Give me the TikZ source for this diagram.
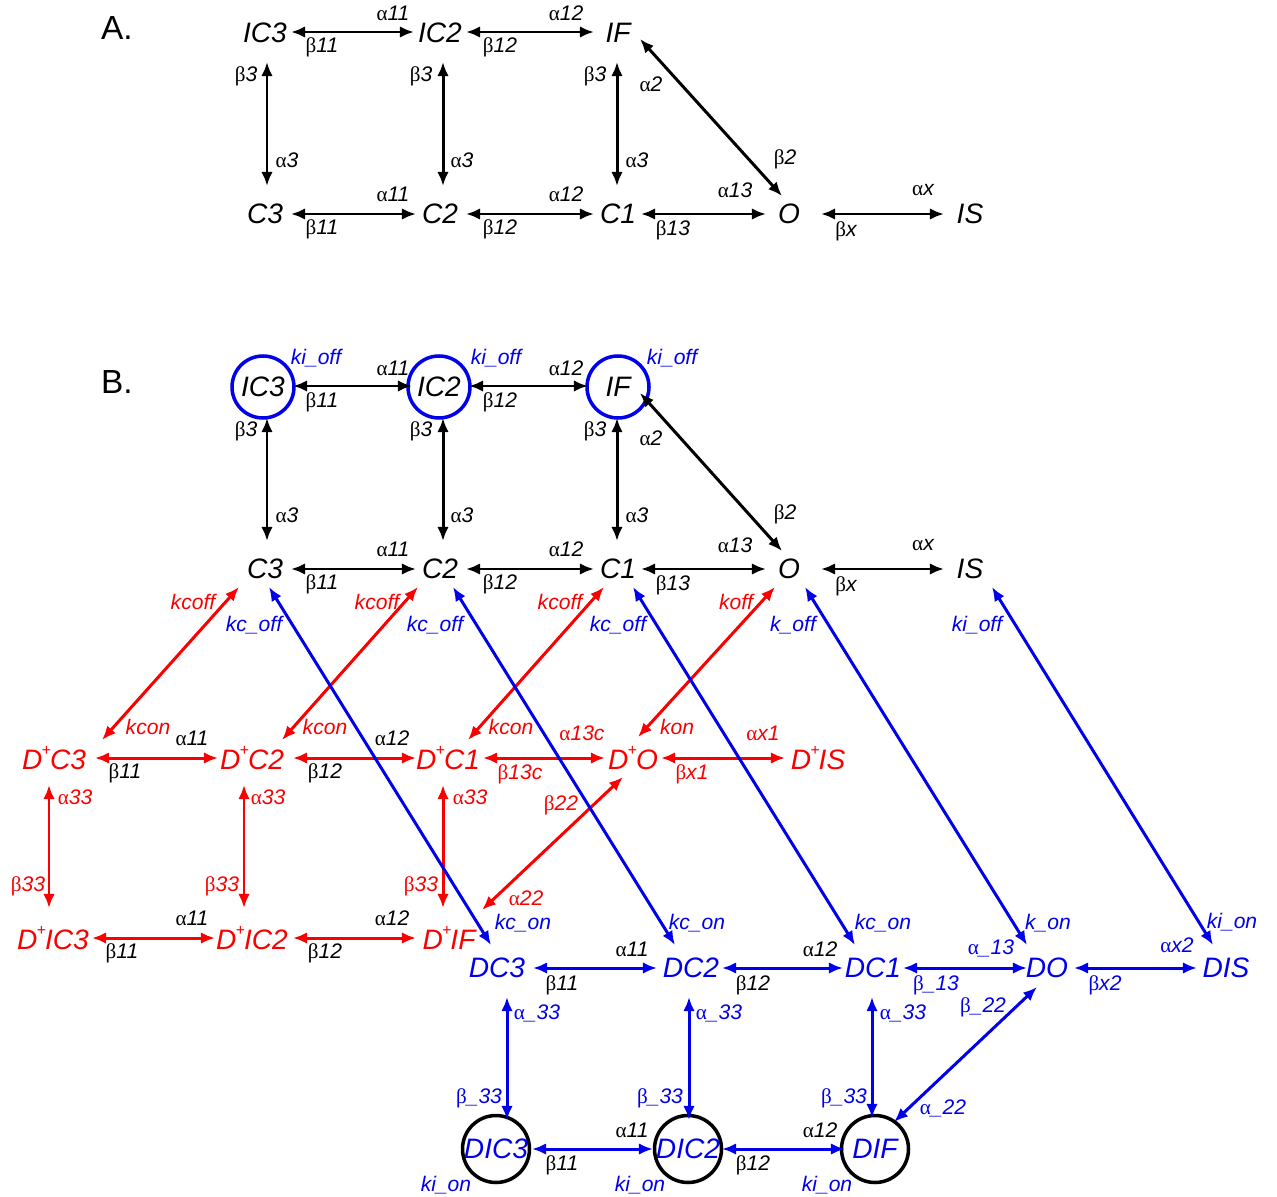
\documentclass[tikz,border=0pt]{standalone}
\usepackage{fontspec}
\setmainfont{Liberation Sans}
\newfontfamily\grk{Liberation Serif}
\usetikzlibrary{calc,arrows.meta}
\definecolor{myred}{RGB}{250,0,0}
\definecolor{myblue}{RGB}{0,0,235}
\newcommand\ga{{\upshape\grk α}}
\newcommand\gb{{\upshape\grk β}}
\newcommand\Dp{D\kern-0.3pt\raisebox{0.95ex}{\fontsize{9}{9}\selectfont\upshape+}\kern-0.6pt}
\newcounter{lbc}
\newcommand\lab[3][]{\stepcounter{lbc}\node[lb,#1] (lab\arabic{lbc}) at (#2) {#3};}
\newcommand\cn[5][]{\draw[arr,#1] ($(#2)+(#3)$) -- ($(#4)+(#5)$);}
\tikzset{
 st/.style={font=\fontsize{16}{19}\selectfont\itshape, inner sep=0pt},
 lb/.style={font=\fontsize{12}{14}\selectfont\itshape, inner sep=0pt},
 arr/.style={line width=1.7pt, {Latex[length=8pt,width=6.5pt]}-{Latex[length=8pt,width=6.5pt]}},
 rd/.style={draw=myred, color=myred},
 bl/.style={draw=myblue, color=myblue},
 R/.style={text=myred},
 B/.style={text=myblue},
 circB/.style={st, circle, draw=myblue, line width=2pt, minimum size=1.24cm},
 circK/.style={st, circle, draw=black, line width=2pt, minimum size=1.34cm, text=myblue},
 panel/.style={font=\fontsize{19}{22}\selectfont, inner sep=0pt},
}
\begin{document}
\begin{tikzpicture}[x=0.02cm,y=-0.02cm]
\useasboundingbox (0,0) rectangle (1277,1196);
% ---------------- Panel A
\node[panel] (pA) at (117,28) {A.};
\node[st] (aIC3) at (265,33) {IC3};
\node[st] (aIC2) at (440,33) {IC2};
\node[st] (aIF) at (618,33) {IF};
\node[st] (aC3) at (265,214) {C3};
\node[st] (aC2) at (440,214) {C2};
\node[st] (aC1) at (618,214) {C1};
\node[st] (aO) at (789,214) {O};
\node[st] (aIS) at (970,214) {IS};
\cn{aIC3}{26,-1}{aIC2}{-26,-1}
\cn{aIC2}{26,-1}{aIF}{-24,-1}
\cn{aIC3}{2,29}{aC3}{2,-28}
\cn{aIC2}{3,29}{aC2}{3,-28}
\cn{aIF}{-1,29}{aC1}{-1,-28}
\cn{aIF}{22,6}{aO}{-7,-18}
\cn{aC3}{26,0}{aC2}{-24,0}
\cn{aC2}{26,0}{aC1}{-24,0}
\cn{aC1}{23,0}{aO}{-23,0}
\cn{aO}{32,0}{aIS}{-26,0}
\lab{393,13}{\ga11}
\lab{322,47}{\gb11}
\lab{566,13}{\ga12}
\lab{500,47}{\gb12}
\lab{246,76}{\gb3}
\lab{287,160}{\ga3}
\lab{421,76}{\gb3}
\lab{462,160}{\ga3}
\lab{595,76}{\gb3}
\lab{637,160}{\ga3}
\lab{651,84}{\ga2}
\lab{785,159}{\gb2}
\lab{393,194}{\ga11}
\lab{322,229}{\gb11}
\lab{566,194}{\ga12}
\lab{500,229}{\gb12}
\lab{735,190}{\ga13}
\lab{673,230}{\gb13}
\lab{923,190}{\ga x}
\lab{846,231}{\gb x}
% ---------------- Panel B
\node[panel] (pB) at (117,382) {B.};
\node[circB] (bIC3) at (263,387) {IC3};
\node[circB] (bIC2) at (439,387) {IC2};
\node[circB] (bIF) at (618,387) {IF};
\node[st] (bC3) at (265,569) {C3};
\node[st] (bC2) at (440,569) {C2};
\node[st] (bC1) at (618,569) {C1};
\node[st] (bO) at (789,569) {O};
\node[st] (bIS) at (970,569) {IS};
\lab[B]{316,358}{ki\_off}
\lab[B]{496,358}{ki\_off}
\lab[B]{672,358}{ki\_off}
\cn{bIC3}{30,-1}{bIC2}{-27,-1}
\cn{bIC2}{30,-1}{bIF}{-30,-1}
\cn{bIC3}{4,31}{bC3}{2,-28}
\cn{bIC2}{4,31}{bC2}{3,-28}
\cn{bIF}{-1,31}{bC1}{-1,-28}
\cn{bIF}{22,6}{bO}{-7,-18}
\cn{bC3}{26,0}{bC2}{-24,0}
\cn{bC2}{26,0}{bC1}{-24,0}
\cn{bC1}{23,0}{bO}{-23,0}
\cn{bO}{32,0}{bIS}{-26,0}
\lab{393,368}{\ga11}
\lab{322,402}{\gb11}
\lab{566,368}{\ga12}
\lab{500,402}{\gb12}
\lab{246,431}{\gb3}
\lab{287,515}{\ga3}
\lab{421,431}{\gb3}
\lab{462,515}{\ga3}
\lab{595,431}{\gb3}
\lab{637,515}{\ga3}
\lab{651,438}{\ga2}
\lab{785,514}{\gb2}
\lab{393,549}{\ga11}
\lab{322,584}{\gb11}
\lab{566,549}{\ga12}
\lab{500,584}{\gb12}
\lab{735,545}{\ga13}
\lab{673,585}{\gb13}
\lab{923,545}{\ga x}
\lab{846,586}{\gb x}
% red states
\node[st,text=myred] (DpC3) at (54,758) {\Dp C3};
\node[st,text=myred] (DpC2) at (252,758) {\Dp C2};
\node[st,text=myred] (DpC1) at (448,758) {\Dp C1};
\node[st,text=myred] (DpO) at (633,758) {\Dp O};
\node[st,text=myred] (DpIS) at (818,758) {\Dp IS};
\node[st,text=myred] (DpIC3) at (53,938) {\Dp IC3};
\node[st,text=myred] (DpIC2) at (252,938) {\Dp IC2};
\node[st,text=myred] (DpIF) at (449,938) {\Dp IF};
% blue states
\node[st,text=myblue] (DC3) at (497,968) {DC3};
\node[st,text=myblue] (DC2) at (691,968) {DC2};
\node[st,text=myblue] (DC1) at (873,968) {DC1};
\node[st,text=myblue] (DO) at (1047,968) {DO};
\node[st,text=myblue] (DIS) at (1226,968) {DIS};
\node[circK] (DIC3) at (496,1149) {DIC3};
\node[circK] (DIC2) at (688,1149) {DIC2};
\node[circK] (DIF) at (875,1149) {DIF};
% red connectors
\cn[rd]{bC3}{-26,18}{DpC3}{48,-18}
\cn[rd]{bC2}{-22,18}{DpC2}{30,-18}
\cn[rd]{bC1}{-14,18}{DpC1}{20,-18}
\cn[rd]{bO}{-14,18}{DpO}{5,-21}
\cn[rd]{DpC3}{41,0}{DpC2}{-34,0}
\cn[rd]{DpC2}{41,0}{DpC1}{-32,0}
\cn[rd]{DpC1}{35,0}{DpO}{-28,0}
\cn[rd]{DpO}{28,0}{DpIS}{-33,0}
\cn[rd]{DpC3}{-5,27}{DpIC3}{-4,-30}
\cn[rd]{DpC2}{-8,27}{DpIC2}{-8,-30}
\cn[rd]{DpC1}{-5,27}{DpIF}{-6,-30}
\cn[rd]{DpO}{-10,19}{DpIF}{33,-28}
\cn[rd]{DpIC3}{39,0}{DpIC2}{-37,0}
\cn[rd]{DpIC2}{41,0}{DpIF}{-33,0}
% blue connectors
\cn[bl]{bC3}{4,18}{DC3}{-6,-23}
\cn[bl]{bC2}{13,18}{DC2}{-16,-23}
\cn[bl]{bC1}{15,18}{DC1}{-18,-23}
\cn[bl]{bO}{16,18}{DO}{-20,-23}
\cn[bl]{bIS}{22,18}{DIS}{-13,-23}
\cn[bl]{DC3}{36,0}{DC2}{-34,0}
\cn[bl]{DC2}{31,0}{DC1}{-30,0}
\cn[bl]{DC1}{30,0}{DO}{-20,0}
\cn[bl]{DO}{27,0}{DIS}{-29,0}
\cn[bl]{DC3}{10,29}{DIC3}{11,-29}
\cn[bl]{DC2}{-2,29}{DIC2}{1,-29}
\cn[bl]{DC1}{-1,29}{DIF}{-3,-31}
\cn[bl]{DO}{-10,19}{DIF}{19,-27}
\cn[bl]{DIC3}{36,0}{DIC2}{-35,0}
\cn[bl]{DIC2}{34,0}{DIF}{-30,0}
% red-area labels
\lab[R]{193,602}{kcoff}
\lab[R]{377,602}{kcoff}
\lab[R]{560,602}{kcoff}
\lab[R]{736,602}{koff}
\lab[R]{148,727}{kcon}
\lab[R]{325,727}{kcon}
\lab[R]{511,727}{kcon}
\lab[R]{677,727}{kon}
\lab{192,738}{\ga11}
\lab{125,773}{\gb11}
\lab{392,738}{\ga12}
\lab{325,773}{\gb12}
\lab[R]{582,733}{\ga13c}
\lab[R]{520,774}{\gb13c}
\lab[R]{763,733}{\ga x1}
\lab[R]{692,774}{\gb x1}
\lab[R]{75,797}{\ga33}
\lab[R]{268,797}{\ga33}
\lab[R]{470,797}{\ga33}
\lab[R]{28,886}{\gb33}
\lab[R]{222,886}{\gb33}
\lab[R]{421,886}{\gb33}
\lab[R]{561,805}{\gb22}
\lab[R]{526,898}{\ga22}
\lab{192,918}{\ga11}
\lab{122,953}{\gb11}
\lab{392,918}{\ga12}
\lab{325,953}{\gb12}
% blue-area labels
\lab[B]{254,625}{kc\_off}
\lab[B]{435,625}{kc\_off}
\lab[B]{618,625}{kc\_off}
\lab[B]{793,625}{k\_off}
\lab[B]{977,625}{ki\_off}
\lab[B]{523,923}{kc\_on}
\lab[B]{697,923}{kc\_on}
\lab[B]{883,923}{kc\_on}
\lab[B]{1048,923}{k\_on}
\lab[B]{1232,922}{ki\_on}
\lab{632,949}{\ga11}
\lab{562,985}{\gb11}
\lab{820,949}{\ga12}
\lab{753,985}{\gb12}
\lab[B]{991,948}{\ga\_13}
\lab[B]{936,985}{\gb\_13}
\lab[B]{1177,945}{\ga x2}
\lab[B]{1105,985}{\gb x2}
\lab[B]{537,1013}{\ga\_33}
\lab[B]{719,1013}{\ga\_33}
\lab[B]{903,1013}{\ga\_33}
\lab[B]{479,1098}{\gb\_33}
\lab[B]{660,1098}{\gb\_33}
\lab[B]{844,1098}{\gb\_33}
\lab[B]{983,1007}{\gb\_22}
\lab[B]{943,1108}{\ga\_22}
\lab{632,1130}{\ga11}
\lab{562,1165}{\gb11}
\lab{820,1130}{\ga12}
\lab{753,1165}{\gb12}
\lab[B]{446,1185}{ki\_on}
\lab[B]{640,1185}{ki\_on}
\lab[B]{827,1185}{ki\_on}
\end{tikzpicture}
\end{document}
